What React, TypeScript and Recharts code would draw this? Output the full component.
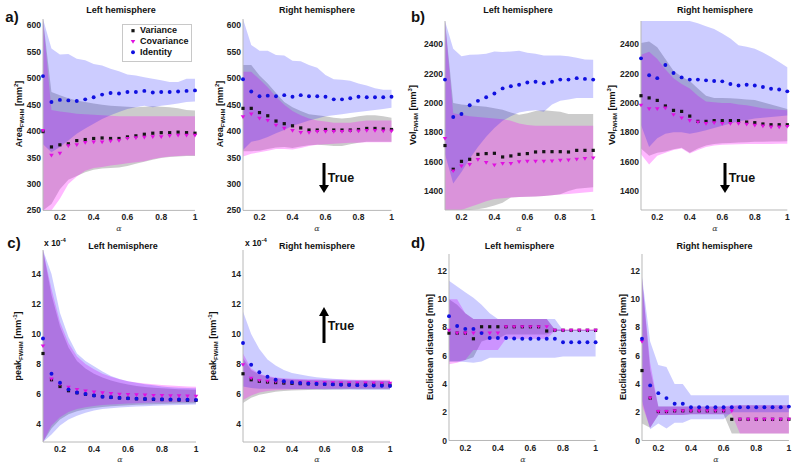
import React from "react";
import { ComposedChart, Area, Line, XAxis, YAxis } from "recharts";

const alpha = [0.1, 0.15, 0.2, 0.25, 0.3, 0.35, 0.4, 0.45, 0.5, 0.55, 0.6, 0.65, 0.7, 0.75, 0.8, 0.85, 0.9, 0.95, 1];
const xTicks = [0.2, 0.4, 0.6, 0.8, 1];

// a) Area_FWHM, left hemisphere
const areaL_var = [399, 370, 374, 376, 382, 384, 386, 387, 386, 386, 389, 391, 394, 396, 397, 397, 398, 397, 396];
const areaL_cov = [401, 354, 358, 372, 374, 378, 379, 379, 381, 382, 386, 387, 388, 389, 389, 391, 392, 392, 392];
const areaL_id = [504, 455, 459, 458, 457, 460, 464, 469, 472, 471, 474, 474, 476, 473, 474, 474, 475, 476, 477];
const areaL_varLo = [250, 262, 290, 308, 315, 322, 327, 329, 330, 331, 334, 338, 342, 346, 349, 351, 352, 353, 353];
const areaL_varHi = [612, 474, 468, 462, 458, 455, 452, 450, 448, 447, 446, 445, 446, 447, 446, 445, 443, 440, 439];
const areaL_covLo = [250, 250, 272, 300, 314, 325, 330, 332, 335, 337, 339, 341, 343, 347, 350, 352, 353, 354, 354];
const areaL_covHi = [612, 440, 437, 435, 433, 432, 431, 430, 429, 428, 428, 428, 428, 428, 428, 428, 428, 428, 428];
const areaL_idLo = [375, 360, 370, 382, 395, 405, 414, 423, 430, 436, 442, 445, 448, 445, 448, 450, 452, 455, 456];
const areaL_idHi = [612, 556, 545, 546, 537, 534, 527, 524, 518, 513, 507, 505, 502, 499, 496, 493, 493, 499, 499];

// a) Area_FWHM, right hemisphere
const areaR_var = [443, 443, 435, 429, 419, 414, 410, 406, 402, 402, 403, 402, 402, 402, 403, 405, 405, 404, 403];
const areaR_cov = [427, 432, 424, 420, 411, 405, 401, 397, 397, 399, 399, 399, 399, 400, 400, 401, 401, 400, 400];
const areaR_id = [498, 475, 466, 467, 466, 468, 465, 468, 466, 466, 465, 460, 460, 462, 465, 464, 464, 464, 465];
const areaR_varLo = [362, 362, 363, 366, 369, 370, 368, 371, 373, 374, 373, 372, 372, 375, 378, 380, 380, 380, 380];
const areaR_varHi = [525, 525, 505, 490, 472, 455, 445, 438, 432, 430, 428, 425, 424, 425, 428, 430, 430, 428, 425];
const areaR_covLo = [352, 357, 360, 363, 366, 366, 365, 368, 372, 374, 375, 376, 377, 378, 378, 379, 379, 379, 379];
const areaR_covHi = [512, 512, 498, 483, 465, 450, 438, 430, 424, 420, 418, 416, 416, 416, 418, 420, 420, 420, 420];
const areaR_idLo = [364, 380, 383, 389, 396, 402, 410, 415, 420, 424, 428, 430, 432, 434, 436, 438, 440, 442, 444];
const areaR_idHi = [612, 563, 552, 552, 544, 543, 533, 532, 525, 520, 506, 498, 497, 495, 490, 486, 481, 478, 478];

// b) Vol_FWHM, left hemisphere
const volL_var = [1710, 1548, 1602, 1616, 1650, 1655, 1657, 1632, 1639, 1650, 1655, 1666, 1668, 1668, 1668, 1666, 1677, 1677, 1677];
const volL_cov = [1757, 1536, 1570, 1580, 1614, 1593, 1576, 1586, 1586, 1598, 1602, 1602, 1602, 1604, 1609, 1611, 1616, 1620, 1625];
const volL_id = [2160, 1905, 1925, 1985, 2015, 2040, 2065, 2100, 2115, 2125, 2140, 2145, 2135, 2145, 2160, 2160, 2170, 2165, 2160];
const volL_varLo = [1270, 1270, 1270, 1270, 1275, 1285, 1300, 1320, 1355, 1358, 1360, 1362, 1365, 1370, 1378, 1400, 1415, 1420, 1425];
const volL_varHi = [2560, 2000, 1990, 1985, 1980, 1975, 1965, 1955, 1935, 1920, 1930, 1945, 1950, 1945, 1940, 1925, 1925, 1925, 1925];
const volL_covLo = [1270, 1270, 1270, 1290, 1310, 1330, 1345, 1350, 1355, 1358, 1360, 1362, 1365, 1370, 1375, 1380, 1385, 1390, 1395];
const volL_covHi = [2560, 1930, 1920, 1910, 1905, 1900, 1895, 1890, 1880, 1860, 1850, 1845, 1845, 1845, 1845, 1845, 1845, 1845, 1845];
const volL_idLo = [1650, 1450, 1530, 1620, 1700, 1770, 1830, 1880, 1910, 1935, 1945, 1950, 1940, 1990, 2015, 2025, 2035, 2035, 2035];
const volL_idHi = [2560, 2370, 2320, 2330, 2332, 2336, 2352, 2348, 2352, 2357, 2343, 2336, 2325, 2325, 2325, 2320, 2309, 2298, 2295];

// b) Vol_FWHM, right hemisphere
const volR_var = [2050, 2035, 2018, 1980, 1950, 1943, 1911, 1875, 1875, 1880, 1880, 1880, 1880, 1870, 1866, 1857, 1852, 1852, 1852];
const volR_cov = [1985, 1960, 1960, 1965, 1920, 1898, 1880, 1870, 1860, 1865, 1860, 1860, 1860, 1855, 1848, 1843, 1836, 1836, 1840];
const volR_id = [2305, 2190, 2170, 2260, 2205, 2175, 2160, 2160, 2155, 2150, 2148, 2130, 2120, 2125, 2120, 2110, 2098, 2092, 2080];
const volR_varLo = [1690, 1640, 1660, 1670, 1685, 1695, 1660, 1690, 1710, 1720, 1725, 1728, 1730, 1732, 1735, 1735, 1737, 1738, 1740];
const volR_varHi = [2410, 2420, 2380, 2300, 2220, 2180, 2150, 2100, 2050, 2035, 2035, 2032, 2030, 2025, 2020, 2005, 1990, 1975, 1960];
const volR_covLo = [1650, 1580, 1640, 1660, 1680, 1690, 1655, 1680, 1700, 1710, 1715, 1717, 1718, 1720, 1720, 1720, 1720, 1722, 1723];
const volR_covHi = [2330, 2350, 2300, 2230, 2170, 2130, 2100, 2050, 2010, 2005, 2000, 2000, 1990, 1985, 1975, 1965, 1960, 1955, 1950];
const volR_idLo = [1850, 1700, 1760, 1790, 1800, 1800, 1790, 1800, 1815, 1830, 1845, 1860, 1875, 1885, 1895, 1900, 1905, 1910, 1915];
const volR_idHi = [2560, 2560, 2560, 2560, 2560, 2560, 2560, 2545, 2525, 2505, 2475, 2440, 2395, 2385, 2370, 2345, 2315, 2280, 2245];

// c) peak_FWHM (x 1e-4), left hemisphere
const peakL_var = [8.7, 6.95, 6.5, 6.22, 6.08, 5.98, 5.9, 5.83, 5.78, 5.74, 5.71, 5.68, 5.66, 5.64, 5.63, 5.62, 5.6, 5.59, 5.58];
const peakL_cov = [9.2, 7.0, 6.65, 6.45, 6.3, 6.2, 6.12, 6.07, 6.02, 5.98, 5.96, 5.94, 5.92, 5.9, 5.89, 5.88, 5.87, 5.86, 5.85];
const peakL_id = [9.7, 7.35, 6.75, 6.3, 6.1, 6.0, 5.9, 5.82, 5.78, 5.74, 5.71, 5.69, 5.67, 5.66, 5.65, 5.64, 5.63, 5.62, 5.61];
const peakL_varLo = [2.8, 3.7, 4.3, 4.65, 4.85, 4.98, 5.07, 5.13, 5.18, 5.22, 5.25, 5.28, 5.3, 5.32, 5.34, 5.35, 5.36, 5.37, 5.38];
const peakL_varHi = [15.6, 12.6, 10.5, 9.1, 8.2, 7.7, 7.35, 7.1, 6.9, 6.75, 6.63, 6.54, 6.47, 6.42, 6.38, 6.35, 6.32, 6.3, 6.28];
const peakL_covLo = [2.8, 3.9, 4.45, 4.8, 5.0, 5.12, 5.2, 5.26, 5.3, 5.34, 5.37, 5.39, 5.41, 5.43, 5.44, 5.45, 5.46, 5.47, 5.48];
const peakL_covHi = [15.6, 13.0, 10.8, 9.4, 8.5, 8.0, 7.65, 7.35, 7.15, 6.98, 6.85, 6.76, 6.7, 6.65, 6.6, 6.56, 6.53, 6.5, 6.48];
const peakL_idLo = [2.8, 3.3, 3.9, 4.3, 4.55, 4.75, 4.9, 5.0, 5.05, 5.1, 5.13, 5.16, 5.19, 5.21, 5.23, 5.25, 5.27, 5.28, 5.3];
const peakL_idHi = [15.6, 14.0, 11.4, 9.8, 8.7, 8.2, 7.85, 7.5, 7.2, 7.0, 6.85, 6.75, 6.65, 6.58, 6.5, 6.45, 6.42, 6.4, 6.38];

// c) peak_FWHM (x 1e-4), right hemisphere
const peakR_var = [7.35, 6.95, 6.85, 6.8, 6.76, 6.73, 6.71, 6.69, 6.68, 6.67, 6.66, 6.65, 6.64, 6.63, 6.62, 6.62, 6.61, 6.61, 6.6];
const peakR_cov = [7.95, 7.05, 6.9, 6.85, 6.82, 6.8, 6.78, 6.77, 6.76, 6.75, 6.74, 6.74, 6.73, 6.73, 6.72, 6.72, 6.72, 6.71, 6.71];
const peakR_id = [9.4, 7.95, 7.45, 7.15, 6.95, 6.85, 6.78, 6.73, 6.7, 6.68, 6.66, 6.64, 6.62, 6.6, 6.59, 6.58, 6.56, 6.55, 6.53];
const peakR_varLo = [5.4, 5.75, 5.95, 6.05, 6.15, 6.2, 6.23, 6.25, 6.27, 6.28, 6.29, 6.3, 6.3, 6.31, 6.31, 6.31, 6.32, 6.32, 6.32];
const peakR_varHi = [8.4, 7.6, 7.3, 7.15, 7.05, 7.0, 6.97, 6.95, 6.93, 6.92, 6.91, 6.9, 6.9, 6.89, 6.89, 6.89, 6.88, 6.88, 6.88];
const peakR_covLo = [5.6, 5.9, 6.1, 6.2, 6.25, 6.28, 6.3, 6.32, 6.33, 6.34, 6.35, 6.35, 6.36, 6.36, 6.36, 6.37, 6.37, 6.37, 6.37];
const peakR_covHi = [8.7, 7.7, 7.35, 7.2, 7.1, 7.05, 7.02, 7.0, 6.99, 6.98, 6.97, 6.96, 6.96, 6.95, 6.95, 6.95, 6.95, 6.95, 6.95];
const peakR_idLo = [6.5, 6.4, 6.35, 6.35, 6.35, 6.35, 6.34, 6.33, 6.32, 6.31, 6.3, 6.3, 6.3, 6.3, 6.29, 6.29, 6.28, 6.28, 6.28];
const peakR_idHi = [11.5, 10.0, 9.0, 8.3, 7.9, 7.6, 7.4, 7.3, 7.2, 7.12, 7.06, 7.02, 6.98, 6.95, 6.93, 6.91, 6.9, 6.88, 6.87];

// d) Euclidean distance, left hemisphere
const distL_var = [7.6, 7.6, 7.6, 7.2, 8.05, 8.05, 8.05, 8.05, 8.05, 8.05, 8.05, 8.05, 7.75, 7.8, 7.8, 7.8, 7.8, 7.8, 7.8];
const distL_cov = [7.8, 7.6, 7.6, 7.6, 7.6, 7.6, 7.6, 8.05, 8.05, 8.05, 8.05, 8.05, 8.05, 7.8, 7.8, 7.8, 7.8, 7.8, 7.8];
const distL_id = [8.8, 8.1, 7.9, 7.9, 7.6, 7.25, 7.25, 7.25, 7.22, 7.2, 7.2, 7.2, 7.2, 7.2, 6.95, 6.95, 6.95, 6.95, 6.95];
const distL_varLo = [5.6, 5.6, 5.7, 5.9, 7.0, 7.2, 7.2, 7.5, 7.5, 7.5, 7.5, 7.5, 7.5, 7.75, 7.75, 7.75, 7.75, 7.75, 7.75];
const distL_varHi = [10.0, 9.6, 9.0, 8.6, 8.6, 8.6, 8.6, 8.6, 8.6, 8.6, 8.6, 8.6, 8.6, 7.85, 7.85, 7.85, 7.85, 7.85, 7.85];
const distL_covLo = [5.4, 5.5, 5.7, 6.4, 6.4, 6.4, 6.4, 7.2, 7.2, 7.2, 7.2, 7.2, 7.2, 7.75, 7.75, 7.75, 7.75, 7.75, 7.75];
const distL_covHi = [10.0, 10.0, 9.0, 8.6, 8.6, 8.6, 8.6, 8.6, 8.6, 8.6, 8.6, 8.6, 8.6, 7.85, 7.85, 7.85, 7.85, 7.85, 7.85];
const distL_idLo = [5.6, 5.6, 5.55, 5.5, 5.6, 5.85, 5.85, 5.85, 5.85, 5.85, 5.85, 5.85, 5.85, 5.85, 5.95, 5.95, 5.95, 5.95, 5.95];
const distL_idHi = [11.3, 10.9, 10.5, 10.1, 9.6, 9.0, 8.6, 8.6, 8.6, 8.6, 8.6, 8.6, 8.6, 8.6, 7.8, 7.8, 7.8, 7.8, 7.8];

// d) Euclidean distance, right hemisphere
const distR_var = [4.95, 3.0, 2.05, 2.05, 2.1, 2.1, 2.1, 2.1, 2.1, 2.1, 2.1, 1.5, 1.5, 1.5, 1.5, 1.5, 1.5, 1.5, 1.5];
const distR_cov = [7.0, 3.0, 2.05, 2.05, 2.1, 2.1, 2.1, 2.1, 2.1, 2.1, 2.1, 2.1, 1.5, 1.5, 1.5, 1.5, 1.5, 1.5, 1.5];
const distR_id = [7.2, 3.9, 3.35, 3.0, 2.6, 2.6, 2.35, 2.35, 2.35, 2.35, 2.35, 2.35, 2.35, 2.35, 2.35, 2.35, 2.35, 2.35, 2.4];
const distR_varLo = [1.2, 0.9, 1.8, 1.8, 1.8, 1.8, 1.85, 1.85, 1.85, 1.85, 1.85, 0.5, 0.5, 0.5, 0.5, 0.5, 0.5, 0.5, 0.5];
const distR_varHi = [11.5, 5.0, 2.4, 2.4, 2.4, 2.4, 2.4, 2.4, 2.4, 2.4, 2.4, 2.4, 2.5, 2.5, 2.5, 2.5, 2.5, 2.5, 2.5];
const distR_covLo = [2.5, 0.9, 1.8, 1.8, 1.8, 1.8, 1.85, 1.85, 1.85, 1.85, 1.85, 1.85, 0.5, 0.5, 0.5, 0.5, 0.5, 0.5, 0.5];
const distR_covHi = [11.5, 5.5, 2.4, 2.4, 2.4, 2.4, 2.4, 2.4, 2.4, 2.4, 2.4, 2.5, 2.5, 2.5, 2.5, 2.5, 2.5, 2.5, 2.5];
const distR_idLo = [2.8, 0.8, 1.2, 0.85, 1.25, 1.25, 1.5, 1.5, 1.5, 1.5, 1.5, 2.0, 2.0, 2.0, 2.0, 2.0, 2.0, 2.0, 2.0];
const distR_idHi = [11.6, 7.0, 5.35, 5.2, 4.0, 4.0, 3.2, 3.2, 3.2, 3.2, 3.2, 3.2, 3.2, 3.2, 3.2, 3.2, 3.2, 3.2, 3.2];

const areaTicks = [250, 300, 350, 400, 450, 500, 550, 600];
const volTicks = [1400, 1600, 1800, 2000, 2200, 2400];
const peakTicks = [4, 6, 8, 10, 12, 14];
const distTicks = [0, 2, 4, 6, 8, 10, 12];

function buildRows(v, c, id, vLo, vHi, cLo, cHi, iLo, iHi) {
  return alpha.map((a, i) => ({
    a,
    v: v[i],
    c: c[i],
    id: id[i],
    vB: [vLo[i], vHi[i]],
    cB: [cLo[i], cHi[i]],
    iB: [iLo[i], iHi[i]],
  }));
}

const FONT = "'Liberation Sans', Arial, Helvetica, sans-serif";
const BLACK = "#141414";
const MAGENTA = "#e010e0";
const BLUE = "#1010e0";

const tickStyle = { fontSize: 8.5, fontWeight: 700, fill: "#222", fontFamily: FONT };

const squareDot = (p: any) => (
  <rect key={`s${p.index}`} x={p.cx - 1.6} y={p.cy - 1.6} width={3.2} height={3.2} fill={BLACK} />
);
const triDot = (p: any) => (
  <path
    key={`t${p.index}`}
    d={`M${p.cx - 2.3},${p.cy - 1.6}L${p.cx + 2.3},${p.cy - 1.6}L${p.cx},${p.cy + 2.1}Z`}
    fill={MAGENTA}
  />
);
const circleDot = (p: any) => <circle key={`c${p.index}`} cx={p.cx} cy={p.cy} r={1.95} fill={BLUE} />;

const panels = [
  { key: "aL", rows: buildRows(areaL_var, areaL_cov, areaL_id, areaL_varLo, areaL_varHi, areaL_covLo, areaL_covHi, areaL_idLo, areaL_idHi), domain: [250, 612], ticks: areaTicks, x0: 43, x1: 195, y0: 18.6, y1: 210 },
  { key: "aR", rows: buildRows(areaR_var, areaR_cov, areaR_id, areaR_varLo, areaR_varHi, areaR_covLo, areaR_covHi, areaR_idLo, areaR_idHi), domain: [250, 612], ticks: areaTicks, x0: 242.5, x1: 391, y0: 18.6, y1: 210 },
  { key: "bL", rows: buildRows(volL_var, volL_cov, volL_id, volL_varLo, volL_varHi, volL_covLo, volL_covHi, volL_idLo, volL_idHi), domain: [1270, 2560], ticks: volTicks, x0: 444.5, x1: 592.7, y0: 20.5, y1: 209.5 },
  { key: "bR", rows: buildRows(volR_var, volR_cov, volR_id, volR_varLo, volR_varHi, volR_covLo, volR_covHi, volR_idLo, volR_idHi), domain: [1270, 2560], ticks: volTicks, x0: 641.4, x1: 787.7, y0: 20.5, y1: 209.5 },
  { key: "cL", rows: buildRows(peakL_var, peakL_cov, peakL_id, peakL_varLo, peakL_varHi, peakL_covLo, peakL_covHi, peakL_idLo, peakL_idHi), domain: [2.8, 15.6], ticks: peakTicks, x0: 43, x1: 196, y0: 250.3, y1: 442.3 },
  { key: "cR", rows: buildRows(peakR_var, peakR_cov, peakR_id, peakR_varLo, peakR_varHi, peakR_covLo, peakR_covHi, peakR_idLo, peakR_idHi), domain: [2.8, 15.6], ticks: peakTicks, x0: 243, x1: 390, y0: 250.3, y1: 442.3 },
  { key: "dL", rows: buildRows(distL_var, distL_cov, distL_id, distL_varLo, distL_varHi, distL_covLo, distL_covHi, distL_idLo, distL_idHi), domain: [0, 13.2], ticks: distTicks, x0: 449.4, x1: 596, y0: 254, y1: 440.5 },
  { key: "dR", rows: buildRows(distR_var, distR_cov, distR_id, distR_varLo, distR_varHi, distR_covLo, distR_covHi, distR_idLo, distR_idHi), domain: [0, 13.2], ticks: distTicks, x0: 642.4, x1: 789.3, y0: 254, y1: 440.5 },
];

const YW = 32;
const MT = 4;
const MR = 4;
const XH = 18;

function Panel({ p }: { p: any }) {
  const w = p.x1 - p.x0 + YW + MR;
  const h = p.y1 - p.y0 + MT + XH;
  return (
    <div style={{ position: "absolute", left: p.x0 - YW, top: p.y0 - MT }}>
      <ComposedChart width={w} height={h} data={p.rows} margin={{ top: MT, right: MR, bottom: 0, left: 0 }}>
        <XAxis
          type="number"
          dataKey="a"
          domain={[0.1, 1]}
          ticks={xTicks}
          interval={0}
          height={XH}
          tickLine={false}
          tickSize={0}
          tickMargin={4}
          axisLine={{ stroke: "#b8b8b8" }}
          tick={tickStyle}
          tickFormatter={(v) => (v === 1 ? "1" : String(v))}
        />
        <YAxis
          type="number"
          domain={p.domain}
          ticks={p.ticks}
          interval={0}
          width={YW}
          tickLine={false}
          tickSize={0}
          tickMargin={2}
          axisLine={{ stroke: "#b8b8b8" }}
          tick={tickStyle}
        />
        <Area type="linear" dataKey="vB" stroke="none" fill="#000000" fillOpacity={0.2} isAnimationActive={false} />
        <Area type="linear" dataKey="cB" stroke="none" fill="#ff00ff" fillOpacity={0.28} isAnimationActive={false} />
        <Area type="linear" dataKey="iB" stroke="none" fill="#0000ff" fillOpacity={0.2} isAnimationActive={false} />
        <Line dataKey="v" stroke="none" dot={squareDot} activeDot={false} isAnimationActive={false} />
        <Line dataKey="c" stroke="none" dot={triDot} activeDot={false} isAnimationActive={false} />
        <Line dataKey="id" stroke="none" dot={circleDot} activeDot={false} isAnimationActive={false} />
      </ComposedChart>
    </div>
  );
}

const Txt = ({ x, y, size = 9, children, style = {} }: any) => (
  <div
    style={{
      position: "absolute",
      left: x,
      top: y,
      transform: "translate(-50%, -50%)",
      whiteSpace: "nowrap",
      fontFamily: FONT,
      fontWeight: 700,
      fontSize: size,
      color: "#111",
      lineHeight: 1,
      ...style,
    }}
  >
    {children}
  </div>
);

const Sub = ({ children }: any) => <span style={{ fontSize: 6, verticalAlign: "-2px" }}>{children}</span>;
const Sup = ({ children }: any) => <span style={{ fontSize: 6, verticalAlign: "4px" }}>{children}</span>;

const YLabel = ({ x, y, children }: any) => (
  <Txt x={x} y={y} size={9} style={{ transform: "translate(-50%, -50%) rotate(-90deg)" }}>
    {children}
  </Txt>
);

const Alpha = ({ x, y }: any) => (
  <Txt x={x} y={y} size={8} style={{ fontFamily: "'DejaVu Serif', serif", fontWeight: 400, fontStyle: "italic", color: "#333" }}>
    α
  </Txt>
);

export default function App() {
  return (
    <div style={{ position: "absolute", left: 0, top: 0, width: 797, height: 471, background: "#fff", overflow: "hidden" }}>
      {panels.map((p) => (
        <Panel key={p.key} p={p} />
      ))}

      {/* panel letters */}
      <Txt x={12} y={16} size={15}>a)</Txt>
      <Txt x={418} y={16} size={15}>b)</Txt>
      <Txt x={14} y={241.5} size={15}>c)</Txt>
      <Txt x={418} y={241.5} size={15}>d)</Txt>

      {/* titles */}
      <Txt x={121} y={10}>Left hemisphere</Txt>
      <Txt x={317} y={10}>Right hemisphere</Txt>
      <Txt x={518} y={10}>Left hemisphere</Txt>
      <Txt x={715} y={10}>Right hemisphere</Txt>
      <Txt x={123} y={245.5}>Left hemisphere</Txt>
      <Txt x={317} y={245.5}>Right hemisphere</Txt>
      <Txt x={519.5} y={245.5}>Left hemisphere</Txt>
      <Txt x={714.5} y={245.5}>Right hemisphere</Txt>

      {/* y labels */}
      <YLabel x={19} y={114}>Area<Sub>FWHM</Sub> [mm<Sup>2</Sup>]</YLabel>
      <YLabel x={220} y={114}>Area<Sub>FWHM</Sub> [mm<Sup>2</Sup>]</YLabel>
      <YLabel x={413} y={115}>Vol<Sub>FWHM</Sub> [mm<Sup>3</Sup>]</YLabel>
      <YLabel x={612} y={115}>Vol<Sub>FWHM</Sub> [mm<Sup>3</Sup>]</YLabel>
      <YLabel x={17.5} y={346}>peak<Sub>FWHM</Sub> [mm<Sup>-1</Sup>]</YLabel>
      <YLabel x={213} y={346}>peak<Sub>FWHM</Sub> [mm<Sup>-1</Sup>]</YLabel>
      <YLabel x={430} y={347}>Euclidean distance [mm]</YLabel>
      <YLabel x={623} y={347}>Euclidean distance [mm]</YLabel>

      {/* x labels */}
      <Alpha x={119} y={229} />
      <Alpha x={317} y={229} />
      <Alpha x={519} y={229} />
      <Alpha x={715} y={229} />
      <Alpha x={120} y={460} />
      <Alpha x={317} y={460} />
      <Alpha x={523} y={460} />
      <Alpha x={716} y={460} />

      {/* exponent labels */}
      <Txt x={55} y={242} size={8.5}>x 10<Sup>-4</Sup></Txt>
      <Txt x={256} y={242} size={8.5}>x 10<Sup>-4</Sup></Txt>

      {/* "True" arrows */}
      <svg width={797} height={471} style={{ position: "absolute", left: 0, top: 0, pointerEvents: "none" }}>
        <line x1={324} y1={163} x2={324} y2={186} stroke="#000" strokeWidth={3} />
        <path d="M319,185L329,185L324,193Z" fill="#000" />
        <line x1={725} y1={163} x2={725} y2={186} stroke="#000" strokeWidth={3} />
        <path d="M720,185L730,185L725,193Z" fill="#000" />
        <line x1={324} y1={343} x2={324} y2={315} stroke="#000" strokeWidth={3} />
        <path d="M319,316L329,316L324,307Z" fill="#000" />
      </svg>
      <Txt x={341} y={178} size={12.5}>True</Txt>
      <Txt x={742} y={178} size={12.5}>True</Txt>
      <Txt x={341} y={325.5} size={12.5}>True</Txt>

      {/* legend */}
      <div
        style={{
          position: "absolute",
          left: 121.5,
          top: 23.5,
          width: 70,
          height: 38,
          border: "1px solid #c8c8c8",
          background: "#fff",
          boxSizing: "border-box",
        }}
      />
      <svg width={797} height={471} style={{ position: "absolute", left: 0, top: 0, pointerEvents: "none" }}>
        {squareDot({ cx: 133, cy: 30.7, index: 0 })}
        {triDot({ cx: 133, cy: 41.7, index: 0 })}
        {circleDot({ cx: 133, cy: 52.3, index: 0 })}
      </svg>
      <div style={{ position: "absolute", left: 140, top: 25, fontFamily: FONT, fontWeight: 700, fontSize: 9, lineHeight: "10.8px", color: "#111" }}>
        <div>Variance</div>
        <div>Covariance</div>
        <div>Identity</div>
      </div>
    </div>
  );
}
